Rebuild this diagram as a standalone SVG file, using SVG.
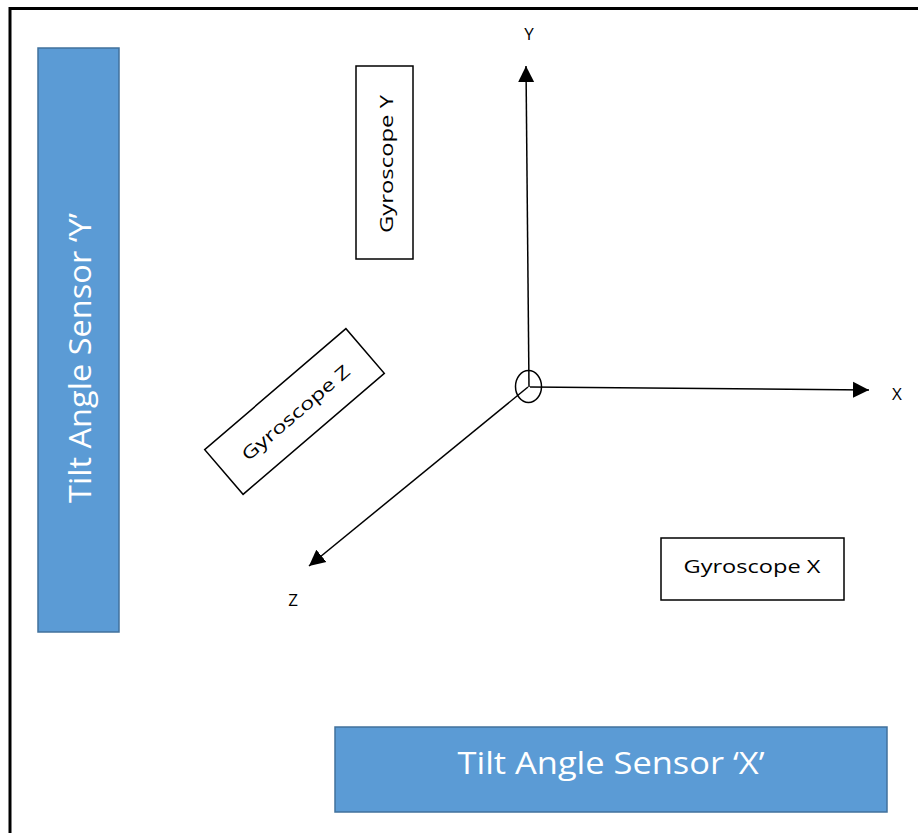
<svg xmlns="http://www.w3.org/2000/svg" width="918" height="833" viewBox="0 0 918 833">
  <style>
    .sensor { fill: #5B9BD5; stroke: #41719C; stroke-width: 1.5; }
    .sensor-text { fill: #ffffff; font-family: "Open Sans", "Liberation Sans", sans-serif; font-size: 31px; }
    .gyro { fill: #ffffff; stroke: #000000; stroke-width: 1.5; }
    .gyro-text { fill: #000000; font-family: "Open Sans", "Liberation Sans", sans-serif; font-size: 17.5px; }
    .axis { stroke: #000000; stroke-width: 1.5; fill: none; }
    .axis-label { fill: #000000; font-family: "Open Sans", "Liberation Sans", sans-serif; font-size: 17px; }
  </style>
  <defs>
    <marker id="arrowBig" viewBox="0 0 10 10" refX="10" refY="5" markerWidth="16" markerHeight="17" markerUnits="userSpaceOnUse" orient="auto">
      <path d="M0,0 L10,5 L0,10 z" fill="#000000"/>
    </marker>
  </defs>
  <rect x="0" y="0" width="918" height="833" fill="#ffffff"/>
  <g id="frame">
    <path d="M10,840 L10,8.5 L925,8.5" fill="none" stroke="#000000" stroke-width="3"/>
  </g>
  <g id="tilt-sensor-y">
    <rect class="sensor" x="38" y="48" width="81" height="584"/>
    <text class="sensor-text" transform="translate(79,358) rotate(-90)" text-anchor="middle" dominant-baseline="central" textLength="290" lengthAdjust="spacingAndGlyphs">Tilt Angle Sensor ‘Y’</text>
  </g>
  <g id="tilt-sensor-x">
    <rect class="sensor" x="335" y="727" width="552" height="85"/>
    <text class="sensor-text" x="611" y="762" text-anchor="middle" dominant-baseline="central" textLength="307" lengthAdjust="spacingAndGlyphs">Tilt Angle Sensor ‘X’</text>
  </g>
  <g id="gyroscope-y">
    <rect class="gyro" x="356" y="66" width="57" height="193"/>
    <text class="gyro-text" transform="translate(386,164) rotate(-90)" text-anchor="middle" dominant-baseline="central" textLength="138" lengthAdjust="spacingAndGlyphs">Gyroscope Y</text>
  </g>
  <g id="gyroscope-z">
    <g transform="translate(294.5,411.5) rotate(-40.6)">
      <rect class="gyro" x="-93" y="-29.5" width="186" height="59"/>
      <text class="gyro-text" x="0" y="1" text-anchor="middle" dominant-baseline="central" textLength="136" lengthAdjust="spacingAndGlyphs">Gyroscope Z</text>
    </g>
  </g>
  <g id="gyroscope-x">
    <rect class="gyro" x="661" y="538" width="183" height="62"/>
    <text class="gyro-text" x="752" y="566" text-anchor="middle" dominant-baseline="central" textLength="137" lengthAdjust="spacingAndGlyphs">Gyroscope X</text>
  </g>
  <g id="origin">
    <ellipse cx="528.5" cy="386.5" rx="13" ry="16" fill="none" stroke="#000000" stroke-width="1.5"/>
  </g>
  <g id="connectors">
    <line class="axis" x1="529" y1="387" x2="526" y2="66" marker-end="url(#arrowBig)"/>
    <line class="axis" x1="530" y1="387" x2="869" y2="390" marker-end="url(#arrowBig)"/>
    <line class="axis" x1="528" y1="387" x2="309" y2="566" marker-end="url(#arrowBig)"/>
  </g>
  <g id="axis-labels">
    <text class="axis-label" x="529" y="33" text-anchor="middle" dominant-baseline="central">Y</text>
    <text class="axis-label" x="897" y="393" text-anchor="middle" dominant-baseline="central">X</text>
    <text class="axis-label" x="293" y="599" text-anchor="middle" dominant-baseline="central">Z</text>
  </g>
</svg>
